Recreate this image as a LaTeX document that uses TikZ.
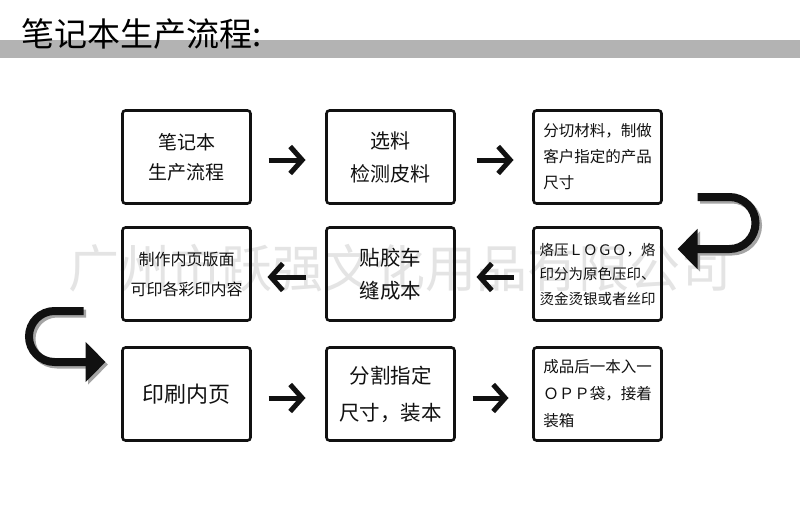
\documentclass[tikz,border=0pt]{standalone}
\usepackage{fontspec}
\setmainfont{Noto Sans CJK SC}
\usetikzlibrary{arrows.meta,positioning,calc}
\definecolor{bar}{HTML}{B3B3B3}
\definecolor{ink}{HTML}{111111}
\definecolor{wmark}{HTML}{E4E4E4}
\definecolor{shade}{HTML}{A5A5A5}
\tikzset{
  card/.style={draw=ink,line width=2.6pt,rounded corners=3pt,minimum width=128pt,minimum height=93pt,inner sep=0pt,outer sep=0pt,align=center,text=ink},
  txt/.style 2 args={font=\fontsize{#1}{#2}\selectfont},
  lefttxt/.style={align=left},
  fat/.style={line width=5pt,draw=ink,-{Straight Barb[length=12pt,width=27pt]}},
  uturn/.style={line width=8pt,-{Triangle[length=20pt,width=39pt]}},
}
\begin{document}
\begin{tikzpicture}[x=1pt,y=1pt]
    \fill[white] (0,0) rectangle (800,-516);
    \useasboundingbox (0,0) rectangle (800,-516);
    \fill[bar] (0,-40) rectangle (800,-58);
    \node[anchor=base west,inner sep=0pt,txt={33}{33}] (title) at (21,-47) {笔记本生产流程:};
    \node[text=wmark,txt={51}{51}] (wm) at (400,-268) {广州市跃强文化用品有限公司};
    \node[card,txt={19}{30}] (start) at (186.5,-157) {笔记本\\生产流程};
    \node[card,txt={20}{33},right=76pt of start] (pick) {选料\\检测皮料};
    \node[card,lefttxt,txt={15.5}{26},right=79pt of pick] (cut) {分切材料，制做\\客户指定的产品\\尺寸};
    \node[card,txt={16}{30},below=24pt of start] (layout) {制作内页版面\\可印各彩印内容};
    \node[card,txt={20.5}{33},below=24pt of pick] (glue) {贴胶车\\缝成本};
    \node[card,lefttxt,txt={14.5}{24.5},below=24pt of cut] (logo) {烙压ＬＯＧＯ，烙\\印分为原色压印、\\烫金烫银或者丝印};
    \node[card,txt={22}{30},below=27pt of layout] (print) {印刷内页};
    \node[card,txt={20.5}{37},below=27pt of glue] (bind) {分割指定\\尺寸，装本};
    \node[card,lefttxt,txt={15.5}{27},below=27pt of logo] (pack) {成品后一本入一\\ＯＰＰ袋，接着\\装箱};
    \draw[fat] ([xshift=18pt,yshift=-3pt]start.east) -- ([xshift=-21pt,yshift=-3pt]pick.west);
    \draw[fat] ([xshift=22pt,yshift=-3pt]pick.east) -- ([xshift=-20pt,yshift=-3pt]cut.west);
    \draw[fat] ([xshift=-20pt,yshift=-3pt]logo.west) -- ([xshift=22pt,yshift=-3pt]glue.east);
    \draw[fat] ([xshift=-21pt,yshift=-3pt]glue.west) -- ([xshift=17pt,yshift=-3pt]layout.east);
    \draw[fat] ([xshift=18pt,yshift=-4pt]print.east) -- ([xshift=-21pt,yshift=-4pt]bind.west);
    \draw[fat] ([xshift=18pt,yshift=-4pt]bind.east) -- ([xshift=-25pt,yshift=-4pt]pack.west);
    \coordinate (r1) at ([xshift=36pt,yshift=-40pt]cut.east);
    \coordinate (r2) at ([xshift=16pt,yshift=25pt]logo.east);
    \coordinate (l1) at ([xshift=-39pt,yshift=-37pt]layout.west);
    \coordinate (l2) at ([xshift=-17pt,yshift=32pt]print.west);
    \foreach \s/\c in {2.5/shade,0/ink} {
      \draw[uturn,draw=\c,transform canvas={shift={(\s pt,-\s pt)}}] (r1) -- ++(32,0) arc[start angle=90,end angle=-90,radius=26] -- (r2);
      \draw[uturn,draw=\c,transform canvas={shift={(\s pt,-\s pt)}}] (l1) -- ++(-29,0) arc[start angle=90,end angle=270,radius=25.5] -- (l2);
    }
  \end{tikzpicture}
\end{document}
